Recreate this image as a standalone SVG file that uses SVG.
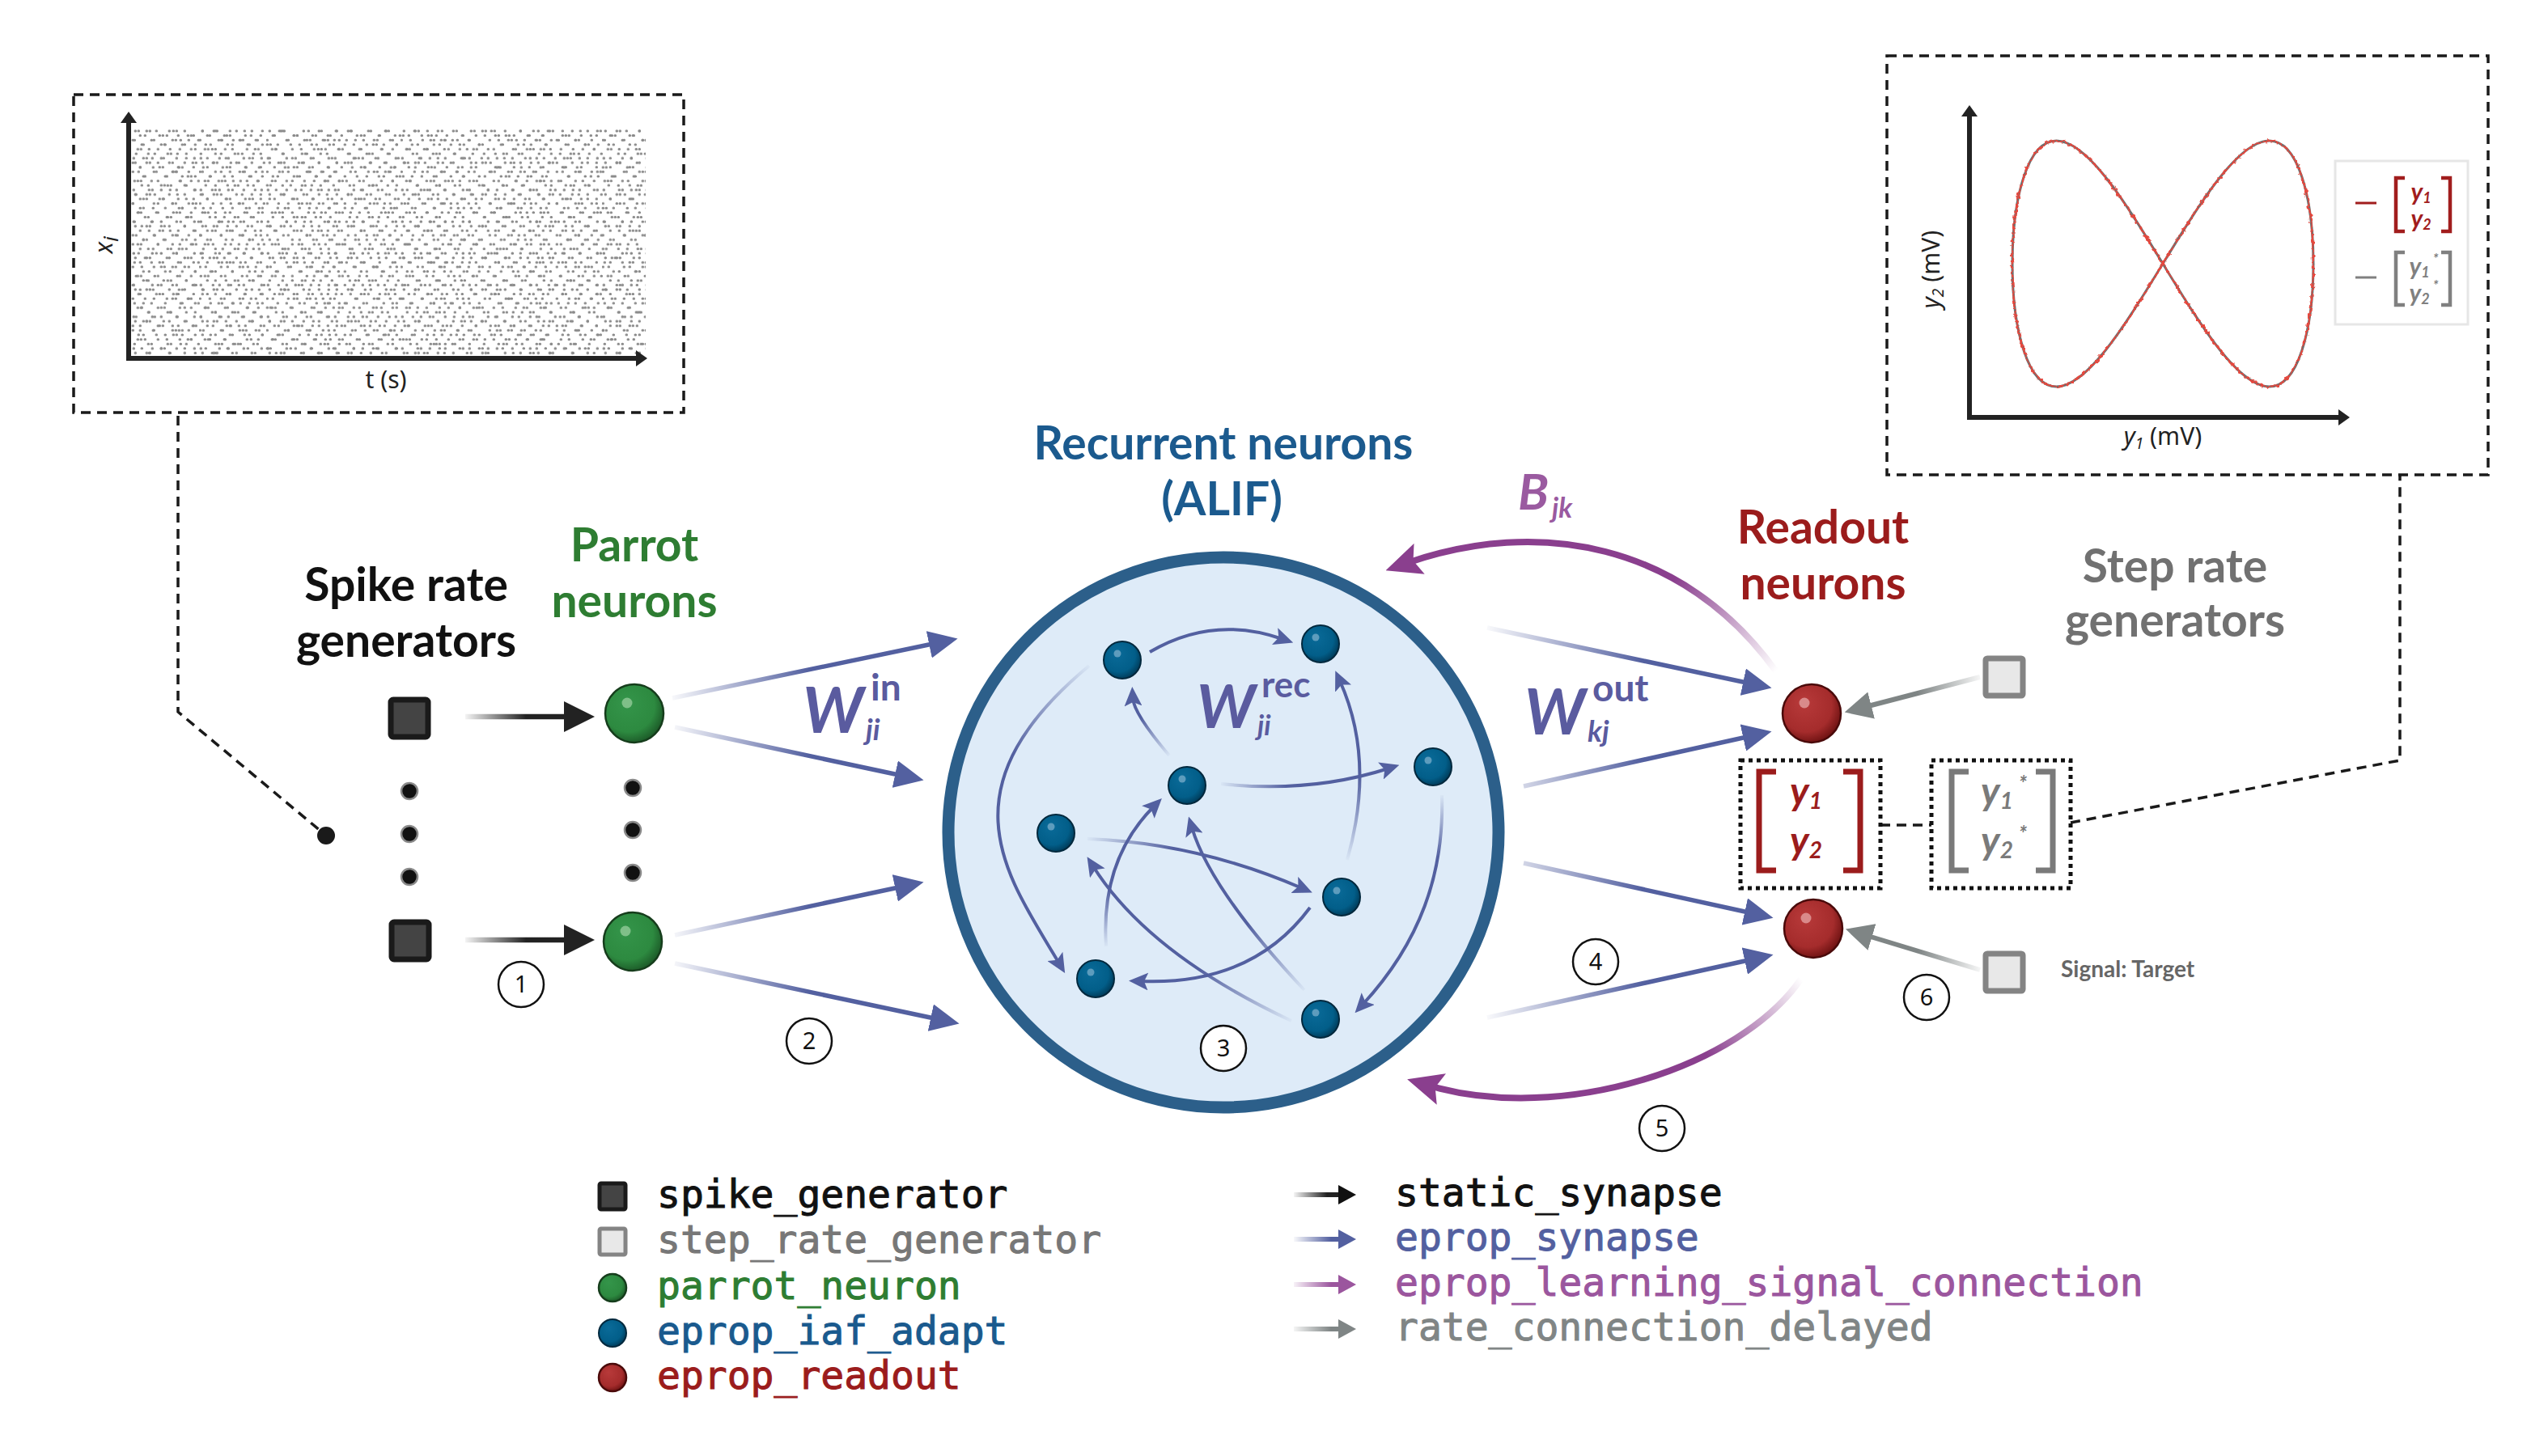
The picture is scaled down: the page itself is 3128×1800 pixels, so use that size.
<svg xmlns="http://www.w3.org/2000/svg" width="3128" height="1800" viewBox="0 0 3128 1800">
<style>
.ttl{font-family:Lato,"Noto Sans","Liberation Sans",sans-serif;font-weight:700;font-size:57px;text-anchor:middle}
.wl{font-family:Lato,"Noto Sans","Liberation Sans",sans-serif;font-weight:700;fill:#5a5b9f}
.it{font-style:italic}
.up{font-style:normal}
.leg{font-family:"DejaVu Sans Mono","Liberation Mono",monospace;font-size:48px;stroke-width:1px}
.num{font-family:"Noto Sans","Liberation Sans",sans-serif;font-size:29px;text-anchor:middle;fill:#111}
.numc{fill:#fff;stroke:#111;stroke-width:2.5}
.dash{fill:none;stroke:#1a1a1a;stroke-width:3.5;stroke-dasharray:12 8}
.dotbox{fill:none;stroke:#111;stroke-width:5;stroke-dasharray:5 5}
.axis{fill:none;stroke:#222;stroke-width:6;marker-end:url(#mAx)}
.rec{fill:none;stroke-width:4;marker-end:url(#mRec)}
.ep{fill:none;stroke-width:5.5;marker-end:url(#mEp)}
.blk{fill:none;stroke-width:6.5;marker-end:url(#mBlk)}
.gry{fill:none;stroke-width:6;marker-end:url(#mGry)}
.pu{fill:none;stroke-width:8;marker-end:url(#mPu)}
.bl{fill:url(#sBlue);stroke:#00283d;stroke-width:2}
.gr{fill:url(#sGreen);stroke:#163d1c;stroke-width:2.5}
.rd{fill:url(#sRed);stroke:#4a0a0a;stroke-width:2.5}
.hlb{fill:#5d9cbd}
.hlg{fill:#7fbf88}
.hlr{fill:#d98a8a}
.ell{fill:#111;stroke:#8a8a8a;stroke-width:2.5}
.sg{fill:#444;stroke:#1a1a1a;stroke-width:7}
.sr{fill:#e8e8e8;stroke:#848484;stroke-width:7}
.rast{fill:none;stroke:#8a8a8a;stroke-width:3;stroke-linecap:round}
.plab{font-family:"Noto Sans","Liberation Sans",sans-serif;font-size:30px;fill:#222}
.vec{font-family:Lato,"Noto Sans",sans-serif;font-weight:700;font-style:italic;text-anchor:middle}
</style>
<defs>
<radialGradient id="sBlue" cx="0.42" cy="0.4" r="0.62" fx="0.35" fy="0.3"><stop offset="0" stop-color="#0a6b99"/><stop offset="0.72" stop-color="#025e89"/><stop offset="1" stop-color="#003b59"/></radialGradient>
<radialGradient id="sGreen" cx="0.42" cy="0.4" r="0.62" fx="0.35" fy="0.3"><stop offset="0" stop-color="#34954a"/><stop offset="0.72" stop-color="#2d8a40"/><stop offset="1" stop-color="#1c5a28"/></radialGradient>
<radialGradient id="sRed" cx="0.42" cy="0.4" r="0.62" fx="0.35" fy="0.3"><stop offset="0" stop-color="#b83a3a"/><stop offset="0.72" stop-color="#a52c2c"/><stop offset="1" stop-color="#6e1212"/></radialGradient>

<linearGradient id="gRec" gradientUnits="userSpaceOnUse"><stop offset="0" stop-color="#5360a0" stop-opacity="0.04"/><stop offset="1" stop-color="#5360a0"/></linearGradient>
<linearGradient id="gRb" href="#gRec" x1="1445" y1="934" x2="1412" y2="886"/>
<linearGradient id="gRc" href="#gRec" x1="1509" y1="969" x2="1590" y2="975"/>
<linearGradient id="gRd" href="#gRec" x1="1665" y1="1063" x2="1680" y2="960"/>
<linearGradient id="gRe" href="#gRec" x1="1344" y1="1037" x2="1450" y2="1045"/>
<linearGradient id="gRg" href="#gRec" x1="1367" y1="1170" x2="1372" y2="1100"/>
<linearGradient id="gRh" href="#gRec" x1="1596" y1="1262" x2="1480" y2="1200"/>
<linearGradient id="gRi" href="#gRec" x1="1612" y1="1224" x2="1545" y2="1140"/>
<linearGradient id="gRj" href="#gRec" x1="1346" y1="823" x2="1250" y2="930"/>
<linearGradient id="gRk" href="#gRec" x1="1782" y1="983" x2="1783" y2="1060"/>
<linearGradient id="gEpIn" href="#gRec" x1="830" y1="0" x2="1000" y2="0"/>
<linearGradient id="gEpOut" href="#gRec" x1="1838" y1="0" x2="2030" y2="0"/>
<linearGradient id="gLE" href="#gRec" x1="1599" y1="0" x2="1645" y2="0"/>
<linearGradient id="gBase" gradientUnits="userSpaceOnUse"><stop offset="0" stop-color="#222" stop-opacity="0.05"/><stop offset="1" stop-color="#222"/></linearGradient>
<linearGradient id="gBlk" href="#gBase" x1="575" y1="0" x2="650" y2="0"/>
<linearGradient id="gLB" href="#gBase" x1="1599" y1="0" x2="1640" y2="0"/>
<linearGradient id="gGBase" gradientUnits="userSpaceOnUse"><stop offset="0" stop-color="#7f8585" stop-opacity="0.08"/><stop offset="1" stop-color="#7f8585"/></linearGradient>
<linearGradient id="gGry" href="#gGBase" x1="2447" y1="0" x2="2370" y2="0"/>
<linearGradient id="gLG" href="#gGBase" x1="1599" y1="0" x2="1645" y2="0"/>
<linearGradient id="gPBase" gradientUnits="userSpaceOnUse"><stop offset="0" stop-color="#8a3f8e" stop-opacity="0"/><stop offset="1" stop-color="#8a3f8e"/></linearGradient>
<linearGradient id="gPuT" href="#gPBase" x1="2195" y1="830" x2="2070" y2="715"/>
<linearGradient id="gPuB" href="#gPBase" x1="2226" y1="1210" x2="2110" y2="1305"/>
<linearGradient id="gLPb" gradientUnits="userSpaceOnUse" x1="1599" y1="0" x2="1645" y2="0"><stop offset="0" stop-color="#9b569e" stop-opacity="0.08"/><stop offset="1" stop-color="#9b569e"/></linearGradient>

<marker id="mRec" markerUnits="userSpaceOnUse" markerWidth="24" markerHeight="22" refX="10" refY="11" orient="auto"><path d="M0,0 L24,11 L0,22 L5,11 Z" fill="#5360a0"/></marker>
<marker id="mEp" markerUnits="userSpaceOnUse" markerWidth="36" markerHeight="34" refX="14" refY="17" orient="auto"><path d="M0,0 L36,17 L0,34 Z" fill="#5360a0"/></marker>
<marker id="mBlk" markerUnits="userSpaceOnUse" markerWidth="38" markerHeight="38" refX="12" refY="19" orient="auto"><path d="M0,0 L38,19 L0,38 Z" fill="#222"/></marker>
<marker id="mGry" markerUnits="userSpaceOnUse" markerWidth="34" markerHeight="34" refX="12" refY="17" orient="auto"><path d="M0,0 L34,17 L0,34 Z" fill="#7f8585"/></marker>
<marker id="mPu" markerUnits="userSpaceOnUse" markerWidth="44" markerHeight="40" refX="16" refY="20" orient="auto"><path d="M0,0 L44,20 L0,40 L8,20 Z" fill="#8a3f8e"/></marker>
<marker id="mAx" markerUnits="userSpaceOnUse" markerWidth="14" markerHeight="20" refX="2" refY="10" orient="auto"><path d="M0,0 L14,10 L0,20 Z" fill="#222"/></marker>
<marker id="mLB" markerUnits="userSpaceOnUse" markerWidth="22" markerHeight="24" refX="8" refY="12" orient="auto"><path d="M0,0 L22,12 L0,24 Z" fill="#111"/></marker>
<marker id="mLE" markerUnits="userSpaceOnUse" markerWidth="22" markerHeight="24" refX="8" refY="12" orient="auto"><path d="M0,0 L22,12 L0,24 Z" fill="#5360a0"/></marker>
<marker id="mLP" markerUnits="userSpaceOnUse" markerWidth="22" markerHeight="24" refX="8" refY="12" orient="auto"><path d="M0,0 L22,12 L0,24 Z" fill="#9b569e"/></marker>
<marker id="mLG" markerUnits="userSpaceOnUse" markerWidth="22" markerHeight="24" refX="8" refY="12" orient="auto"><path d="M0,0 L22,12 L0,24 Z" fill="#7f8585"/></marker>

<pattern id="pA" patternUnits="userSpaceOnUse" x="162" y="159.2" width="83" height="39.2"><path class="rast" d="M5,2.8h0.6M19,2.8h0.6M23,2.8h0.6M47,2.8h0.6M66,2.8h0.6M11,8.4h0.6M35,8.4h0.6M39,8.4h0.6M58,8.4h0.6M77,8.4h0.6M2,14h0.6M28,14h0.6M51,14h0.6M55,14h0.6M71,14h0.6M15,19.6h0.6M42,19.6h0.6M63,19.6h0.6M79,19.6h0.6M8,25.2h0.6M12,25.2h0.6M33,25.2h0.6M60,25.2h0.6M74,25.2h0.6M21,30.8h0.6M45,30.8h0.6M49,30.8h0.6M68,30.8h0.6M3,36.4h0.6M26,36.4h0.6M37,36.4h0.6M56,36.4h0.6M78,36.4h0.6"/></pattern>
<pattern id="pB" patternUnits="userSpaceOnUse" x="162" y="159.2" width="131" height="50.4"><path class="rast" d="M9,2.8h0.6M31,2.8h0.6M52,2.8h0.6M56,2.8h0.6M88,2.8h0.6M104,2.8h0.6M122,2.8h0.6M17,8.4h0.6M44,8.4h0.6M70,8.4h0.6M74,8.4h0.6M97,8.4h0.6M115,8.4h0.6M4,14h0.6M25,14h0.6M61,14h0.6M83,14h0.6M108,14h0.6M112,14h0.6M126,14h0.6M13,19.6h0.6M37,19.6h0.6M41,19.6h0.6M66,19.6h0.6M92,19.6h0.6M119,19.6h0.6M22,25.2h0.6M48,25.2h0.6M79,25.2h0.6M100,25.2h0.6M104,25.2h0.6M125,25.2h0.6M6,30.8h0.6M29,30.8h0.6M57,30.8h0.6M86,30.8h0.6M111,30.8h0.6M15,36.4h0.6M19,36.4h0.6M40,36.4h0.6M68,36.4h0.6M94,36.4h0.6M117,36.4h0.6M2,42h0.6M33,42h0.6M51,42h0.6M76,42h0.6M80,42h0.6M101,42h0.6M123,42h0.6M11,47.6h0.6M27,47.6h0.6M59,47.6h0.6M63,47.6h0.6M89,47.6h0.6M113,47.6h0.6"/></pattern>

<path id="lem" d="M2673,326 C2697.35,286.2 2721.7,246.6 2744.2,218.5 C2766.7,190.4 2787.3,174 2804.5,174 C2821.7,174 2835.5,190.4 2844.8,218.5 C2854.1,246.6 2859,286.2 2859,326 C2859,365.8 2854.1,405.4 2844.8,433.5 C2835.5,461.6 2821.7,478 2804.5,478 C2787.3,478 2766.7,461.6 2744.2,433.5 C2721.7,405.4 2697.35,365.8 2673,326 C2648.65,286.2 2624.3,246.6 2601.8,218.5 C2579.3,190.4 2558.7,174 2541.5,174 C2524.3,174 2510.5,190.4 2501.2,218.5 C2491.9,246.6 2487,286.2 2487,326 C2487,365.8 2491.9,405.4 2501.2,433.5 C2510.5,461.6 2524.3,478 2541.5,478 C2558.7,478 2579.3,461.6 2601.8,433.5 C2624.3,405.4 2648.65,365.8 2673,326 Z"/>
<filter id="jit" x="-5%" y="-5%" width="110%" height="110%"><feTurbulence type="fractalNoise" baseFrequency="0.22" numOctaves="2" seed="4" result="n"/><feDisplacementMap in="SourceGraphic" in2="n" scale="7" xChannelSelector="R" yChannelSelector="G"/></filter>
</defs>

<rect width="3128" height="1800" fill="#fff"/>

<!-- raster panel -->
<g id="raster-panel">
<rect class="dash" x="91" y="117" width="754" height="393"/>
<rect x="162" y="159" width="636" height="280" fill="url(#pA)"/>
<rect x="162" y="159" width="636" height="280" fill="url(#pB)"/>
<path class="axis" d="M159,446 V150"/>
<path class="axis" d="M156,443 H788"/>
<text class="plab it" transform="translate(139,303) rotate(-90)" text-anchor="middle" font-size="46">x<tspan font-size="26" dy="7">i</tspan></text>
<text class="plab" x="477" y="480" text-anchor="middle">t (s)</text>
</g>

<!-- trajectory plot panel -->
<g id="plot-panel">
<rect class="dash" x="2332" y="69" width="743" height="518"/>
<path class="axis" d="M2434,519 V142"/>
<path class="axis" d="M2431,516 H2892"/>
<text class="plab" transform="translate(2397,333) rotate(-90)" text-anchor="middle"><tspan class="it">y</tspan><tspan font-size="19" dy="5" class="it">2</tspan><tspan dy="-5"> (mV)</tspan></text>
<text class="plab" x="2673" y="550" text-anchor="middle"><tspan class="it">y</tspan><tspan font-size="19" dy="5" class="it">1</tspan><tspan dy="-5"> (mV)</tspan></text>
<use href="#lem" fill="none" stroke="#6e6e6e" stroke-width="3"/>
<use href="#lem" fill="none" stroke="#e8473d" stroke-width="2.2" filter="url(#jit)"/>
<rect x="2886" y="199" width="164" height="202" fill="#fff" stroke="#e6e6e6" stroke-width="3"/>
<path d="M2911,251 H2937" stroke="#a11d1d" stroke-width="3"/>
<path d="M2972,220 H2961 V286 H2972 M3017,220 H3028 V286 H3017" fill="none" stroke="#a11d1d" stroke-width="4.5"/>
<text class="vec" x="2992" y="248" font-size="30" fill="#a11d1d">y<tspan font-size="18" dy="3">1</tspan></text>
<text class="vec" x="2992" y="281" font-size="30" fill="#a11d1d">y<tspan font-size="18" dy="3">2</tspan></text>
<path d="M2911,343 H2937" stroke="#808080" stroke-width="3"/>
<path d="M2972,312 H2961 V377 H2972 M3017,312 H3028 V377 H3017" fill="none" stroke="#808080" stroke-width="4.5"/>
<text class="vec" x="2990" y="340" font-size="30" fill="#808080">y<tspan font-size="18" dy="3">1</tspan></text>
<text class="vec" x="2990" y="373" font-size="30" fill="#808080">y<tspan font-size="18" dy="3">2</tspan></text>
<text class="vec" x="3010" y="326" font-size="17" fill="#808080">*</text>
<text class="vec" x="3010" y="359" font-size="17" fill="#808080">*</text>
</g>

<!-- titles -->
<text class="ttl" x="502" y="743" fill="#111">Spike rate</text>
<text class="ttl" x="502" y="812" fill="#111">generators</text>
<text class="ttl" x="784" y="694" fill="#2e7d32">Parrot</text>
<text class="ttl" x="784" y="763" fill="#2e7d32">neurons</text>
<text class="ttl" x="1512" y="568" fill="#1b5a8e">Recurrent neurons</text>
<text class="ttl" x="1510" y="637" fill="#1b5a8e">(ALIF)</text>
<text class="ttl" x="2253" y="672" fill="#9b1c1c">Readout</text>
<text class="ttl" x="2253" y="741" fill="#9b1c1c">neurons</text>
<text class="ttl" x="2688" y="720" fill="#717171">Step rate</text>
<text class="ttl" x="2688" y="787" fill="#717171">generators</text>
<text x="2547" y="1208" font-family="Lato,'Noto Sans',sans-serif" font-weight="700" font-size="28" fill="#666">Signal: Target</text>

<!-- recurrent population -->
<g id="recurrent-population">
<circle cx="1512" cy="1029" r="340" fill="#deebf8" stroke="#2c5f8a" stroke-width="15"/>
</g>

<!-- connectors -->
<g id="connectors">
<path d="M220,514 V880 L403,1033" class="dash"/>
<path d="M2324,1020 H2387" class="dash"/>
<path d="M2559,1017 L2966,940 V588" class="dash"/>
<path class="blk" stroke="url(#gBlk)" d="M575,886 H709"/>
<path class="blk" stroke="url(#gBlk)" d="M575,1162 H709"/>
<path class="ep" stroke="url(#gEpIn)" d="M831,863 L1162,794"/>
<path class="ep" stroke="url(#gEpIn)" d="M834,899 L1120,960"/>
<path class="ep" stroke="url(#gEpIn)" d="M834,1156 L1120,1095"/>
<path class="ep" stroke="url(#gEpIn)" d="M834,1191 L1164,1261"/>
<path class="rec" stroke="#5360a0" d="M1421,806 Q1499,760 1585,790"/>
<path class="rec" stroke="url(#gRb)" d="M1445,934 Q1401,882 1400,863"/>
<path class="rec" stroke="url(#gRc)" d="M1509,969 Q1619,981 1716,950"/>
<path class="rec" stroke="url(#gRd)" d="M1665,1063 Q1700,940 1656,842"/>
<path class="rec" stroke="url(#gRe)" d="M1344,1037 Q1480,1042 1609,1098"/>
<path class="rec" stroke="#5360a0" d="M1619,1122 Q1547,1219 1409,1213"/>
<path class="rec" stroke="url(#gRg)" d="M1367,1170 Q1360,1063 1426,997"/>
<path class="rec" stroke="url(#gRh)" d="M1596,1262 Q1419,1179 1351,1071"/>
<path class="rec" stroke="url(#gRi)" d="M1612,1224 Q1496,1100 1473,1023"/>
<path class="rec" stroke="url(#gRj)" d="M1346,823 C1161,977 1245,1083 1309,1191"/>
<path class="rec" stroke="url(#gRk)" d="M1782,983 C1785,1080 1755,1165 1684,1242"/>
<path class="ep" stroke="url(#gEpOut)" d="M1838,776 L2168,846"/>
<path class="ep" stroke="url(#gEpOut)" d="M1883,972 L2168,909"/>
<path class="ep" stroke="url(#gEpOut)" d="M1883,1067 L2170,1130"/>
<path class="ep" stroke="url(#gEpOut)" d="M1838,1258 L2170,1185"/>
<path class="gry" stroke="url(#gGry)" d="M2447,837 L2301,875"/>
<path class="gry" stroke="url(#gGry)" d="M2447,1199 L2302,1155"/>
<path class="pu" stroke="url(#gPuT)" d="M2195,830 C2080,670 1900,640 1739,696"/>
<path class="pu" stroke="url(#gPuB)" d="M2226,1210 C2150,1320 1930,1390 1766,1342"/>
</g>

<!-- connector dot -->
<circle cx="403" cy="1033" r="11" fill="#1a1a1a"/>

<!-- weight labels -->
<text class="wl"><tspan class="it" x="992" y="906" font-size="78">W</tspan><tspan class="it" x="1070" y="915" font-size="36">ji</tspan><tspan class="up" x="1076" y="866" font-size="46">in</tspan></text>
<text class="wl"><tspan class="it" x="1479" y="900" font-size="75">W</tspan><tspan class="it" x="1554" y="909" font-size="34">ji</tspan><tspan class="up" x="1559" y="862" font-size="44">rec</tspan></text>
<text class="wl"><tspan class="it" x="1884" y="908" font-size="78">W</tspan><tspan class="it" x="1962" y="917" font-size="36">kj</tspan><tspan class="up" x="1968" y="867" font-size="46">out</tspan></text>
<text class="wl" style="fill:#9a5aa0"><tspan class="it" x="1876" y="630" font-size="62">B</tspan><tspan class="it" x="1918" y="640" font-size="34">jk</tspan></text>

<!-- spike generators -->
<g id="spike-gen-1"><rect class="sg" x="483" y="865" width="46" height="46" rx="3"/></g>
<g id="spike-gen-2"><rect class="sg" x="484" y="1140" width="46" height="46" rx="3"/></g>
<g id="spike-gen-ellipsis"><circle class="ell" cx="506" cy="978" r="10"/><circle class="ell" cx="506" cy="1031" r="10"/><circle class="ell" cx="506" cy="1084" r="10"/></g>

<!-- parrot neurons -->
<g id="parrot-1" transform="translate(784,882)"><circle class="gr" r="36"/><circle class="hlg" cx="-9" cy="-13" r="6.5"/></g>
<g id="parrot-2" transform="translate(782,1164)"><circle class="gr" r="36"/><circle class="hlg" cx="-9" cy="-13" r="6.5"/></g>
<g id="parrot-ellipsis"><circle class="ell" cx="782" cy="974" r="10"/><circle class="ell" cx="782" cy="1026" r="10"/><circle class="ell" cx="782" cy="1079" r="10"/></g>

<!-- recurrent neurons -->
<g id="rec-1" transform="translate(1387,816)"><circle class="bl" r="23"/><circle class="hlb" cx="-6" cy="-8" r="4.5"/></g>
<g id="rec-2" transform="translate(1632,796)"><circle class="bl" r="23"/><circle class="hlb" cx="-6" cy="-8" r="4.5"/></g>
<g id="rec-3" transform="translate(1467,971)"><circle class="bl" r="23"/><circle class="hlb" cx="-6" cy="-8" r="4.5"/></g>
<g id="rec-4" transform="translate(1771,948)"><circle class="bl" r="23"/><circle class="hlb" cx="-6" cy="-8" r="4.5"/></g>
<g id="rec-5" transform="translate(1305,1030)"><circle class="bl" r="23"/><circle class="hlb" cx="-6" cy="-8" r="4.5"/></g>
<g id="rec-6" transform="translate(1658,1109)"><circle class="bl" r="23"/><circle class="hlb" cx="-6" cy="-8" r="4.5"/></g>
<g id="rec-7" transform="translate(1354,1210)"><circle class="bl" r="23"/><circle class="hlb" cx="-6" cy="-8" r="4.5"/></g>
<g id="rec-8" transform="translate(1632,1260)"><circle class="bl" r="23"/><circle class="hlb" cx="-6" cy="-8" r="4.5"/></g>

<!-- readout neurons -->
<g id="readout-1" transform="translate(2239,882)"><circle class="rd" r="36"/><circle class="hlr" cx="-9" cy="-13" r="6.5"/></g>
<g id="readout-2" transform="translate(2241,1148)"><circle class="rd" r="36"/><circle class="hlr" cx="-9" cy="-13" r="6.5"/></g>

<!-- step rate generators -->
<g id="step-gen-1"><rect class="sr" x="2454" y="814" width="46" height="46" rx="2"/></g>
<g id="step-gen-2"><rect class="sr" x="2454" y="1179" width="46" height="46" rx="2"/></g>

<!-- output vector boxes -->
<g id="ybox-output">
<rect class="dotbox" x="2151" y="940" width="173" height="158"/>
<path d="M2195,954 H2174 V1076 H2195 M2278,954 H2299 V1076 H2278" fill="none" stroke="#9b1c1c" stroke-width="7"/>
<text class="vec" x="2232" y="995" font-size="48" fill="#9b1c1c">y<tspan font-size="28" dy="5">1</tspan></text>
<text class="vec" x="2232" y="1056" font-size="48" fill="#9b1c1c">y<tspan font-size="28" dy="5">2</tspan></text>
</g>
<g id="ybox-target">
<rect class="dotbox" x="2387" y="940" width="172" height="158"/>
<path d="M2433,954 H2412 V1076 H2433 M2516,954 H2537 V1076 H2516" fill="none" stroke="#7a7a7a" stroke-width="7"/>
<text class="vec" x="2468" y="995" font-size="48" fill="#7a7a7a">y<tspan font-size="28" dy="5">1</tspan></text>
<text class="vec" x="2468" y="1056" font-size="48" fill="#7a7a7a">y<tspan font-size="28" dy="5">2</tspan></text>
<text class="vec" x="2500" y="978" font-size="26" fill="#7a7a7a">*</text>
<text class="vec" x="2500" y="1040" font-size="26" fill="#7a7a7a">*</text>
</g>

<!-- step numbers -->
<g id="step-numbers">
<circle class="numc" cx="644" cy="1217" r="28"/><text class="num" x="644" y="1227">1</text>
<circle class="numc" cx="1000" cy="1287" r="28"/><text class="num" x="1000" y="1297">2</text>
<circle class="numc" cx="1512" cy="1296" r="28"/><text class="num" x="1512" y="1306">3</text>
<circle class="numc" cx="1972" cy="1189" r="28"/><text class="num" x="1972" y="1199">4</text>
<circle class="numc" cx="2054" cy="1395" r="28"/><text class="num" x="2054" y="1405">5</text>
<circle class="numc" cx="2381" cy="1233" r="28"/><text class="num" x="2381" y="1243">6</text>
</g>

<!-- legend -->
<g id="legend">
<rect x="741" y="1463" width="32" height="32" rx="2" fill="#444" stroke="#1a1a1a" stroke-width="5"/>
<text class="leg" x="812" y="1493" fill="#111" stroke="#111">spike_generator</text>
<rect x="741" y="1519" width="32" height="32" rx="2" fill="#e8e8e8" stroke="#848484" stroke-width="5"/>
<text class="leg" x="812" y="1549" fill="#777" stroke="#777">step_rate_generator</text>
<circle class="gr" cx="757" cy="1592" r="17"/>
<text class="leg" x="812" y="1606" fill="#2e7d32" stroke="#2e7d32">parrot_neuron</text>
<circle class="bl" cx="757" cy="1648" r="17"/>
<text class="leg" x="812" y="1662" fill="#1a5a8e" stroke="#1a5a8e">eprop_iaf_adapt</text>
<circle class="rd" cx="757" cy="1703" r="17"/>
<text class="leg" x="812" y="1717" fill="#9b1c1c" stroke="#9b1c1c">eprop_readout</text>

<path d="M1599,1477 H1662" fill="none" stroke="url(#gLB)" stroke-width="6" marker-end="url(#mLB)"/>
<text class="leg" x="1724" y="1491" fill="#111" stroke="#111">static_synapse</text>
<path d="M1599,1532 H1662" fill="none" stroke="url(#gLE)" stroke-width="6" marker-end="url(#mLE)"/>
<text class="leg" x="1724" y="1546" fill="#5360a0" stroke="#5360a0">eprop_synapse</text>
<path d="M1599,1588 H1662" fill="none" stroke="url(#gLPb)" stroke-width="6" marker-end="url(#mLP)"/>
<text class="leg" x="1724" y="1602" fill="#9b569e" stroke="#9b569e">eprop_learning_signal_connection</text>
<path d="M1599,1643 H1662" fill="none" stroke="url(#gLG)" stroke-width="6" marker-end="url(#mLG)"/>
<text class="leg" x="1724" y="1657" fill="#808585" stroke="#808585">rate_connection_delayed</text>
</g>
</svg>
